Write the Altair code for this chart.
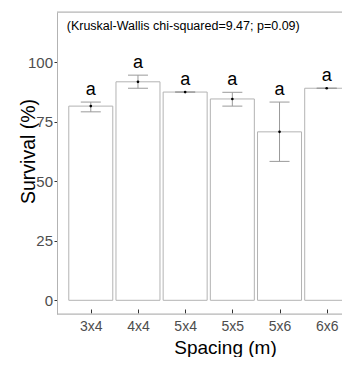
import altair as alt
import pandas as pd

categories = ["3x4", "4x4", "5x4", "5x5", "5x6", "6x6"]
survival_mean = [81.5, 91.7, 87.4, 84.5, 70.7, 89.0]
survival_low = [79.1, 89.0, 87.4, 81.5, 58.3, 89.0]
survival_high = [83.2, 94.5, 87.4, 87.3, 83.2, 89.0]
letters = ["a", "a", "a", "a", "a", "a"]
annotation = "(Kruskal-Wallis chi-squared=9.47; p=0.09)"
y_ticks = [0, 25, 50, 75, 100]

df = pd.DataFrame({
    "idx": list(range(1, len(categories) + 1)),
    "cat": categories,
    "mean": survival_mean,
    "low": survival_low,
    "high": survival_high,
    "letter": letters,
})

W, H = 285, 302
FONT = "Liberation Sans"
FRAME = "#b3b3b3"
ERR = "#9a9a9a"

xscale = alt.Scale(domain=[0.39, 6.218], nice=False, zero=False)
yscale = alt.Scale(domain=[-5.75, 121], nice=False, zero=False)
label_expr = "[" + ",".join(f"'{c}'" for c in categories) + "][datum.value - 1]"

x_axis = alt.Axis(
    values=list(df["idx"]), labelExpr=label_expr, title="Spacing (m)",
    offset=-5, domain=False, grid=False, tickSize=4, tickColor="#333333",
    labelPadding=6, labelFontSize=14, labelColor="#4d4d4d", labelFont=FONT,
    titleFont=FONT, titleFontSize=19, titleFontWeight="normal", titleColor="black",
    titleX=168, titleY=44, titleBaseline="alphabetic", titleAnchor="middle",
)
y_axis = alt.Axis(
    values=y_ticks, title="Survival (%)", grid=False,
    domain=True, domainColor=FRAME, tickSize=3, tickColor="#333333",
    labelPadding=1.5, labelFontSize=15, labelColor="#4d4d4d", labelFont=FONT,
    titleFont=FONT, titleFontSize=19.5, titleFontWeight="normal", titleColor="black",
    titleX=-23, titleY=139, titleBaseline="alphabetic", titleAngle=-90,
)

base = alt.Chart(df)

bars = base.mark_bar(fill="white", stroke=FRAME, strokeWidth=1, size=44, clip=True).encode(
    x=alt.X("idx:Q", scale=xscale, axis=x_axis),
    y=alt.Y("mean:Q", scale=yscale, axis=y_axis),
    y2=alt.datum(0),
)

err = base.mark_rule(color=ERR, strokeWidth=1).encode(
    x="idx:Q", y="low:Q", y2="high:Q"
)
cap_low = base.mark_tick(orient="horizontal", size=20, thickness=1, color=ERR, opacity=1).encode(
    x="idx:Q", y="low:Q"
)
cap_high = base.mark_tick(orient="horizontal", size=20, thickness=1, color=ERR, opacity=1).encode(
    x="idx:Q", y="high:Q"
)
pts = base.mark_circle(size=7, color="black", opacity=1).encode(x="idx:Q", y="mean:Q")

lbl = base.transform_calculate(ly="datum.high + 3").mark_text(
    fontSize=18, font=FONT, baseline="alphabetic", color="black"
).encode(x="idx:Q", y="ly:Q", text="letter:N")

ann = alt.Chart(pd.DataFrame({"t": [annotation]})).mark_text(
    align="left", baseline="middle", fontSize=12.5, font=FONT, color="black"
).encode(x=alt.datum(0.49), y=alt.datum(115.2), text="t:N")

frame_df = pd.DataFrame({"k": [0]})
top_line = alt.Chart(frame_df).mark_rule(color=FRAME, strokeWidth=1).encode(
    x=alt.value(0), x2=alt.value(W), y=alt.value(0)
)
bottom_line = alt.Chart(frame_df).mark_rule(color=FRAME, strokeWidth=1).encode(
    x=alt.value(0), x2=alt.value(W), y=alt.value(H)
)

chart = alt.layer(bars, err, cap_low, cap_high, pts, lbl, ann, top_line, bottom_line).properties(
    width=W, height=H,
    padding={"left": 49, "top": 4, "right": 0, "bottom": 43},
    autosize=alt.AutoSizeParams(type="none"),
).configure_view(stroke=None).configure(background="white")

chart.save("out.html", embed_options={"renderer": "svg", "actions": False})
